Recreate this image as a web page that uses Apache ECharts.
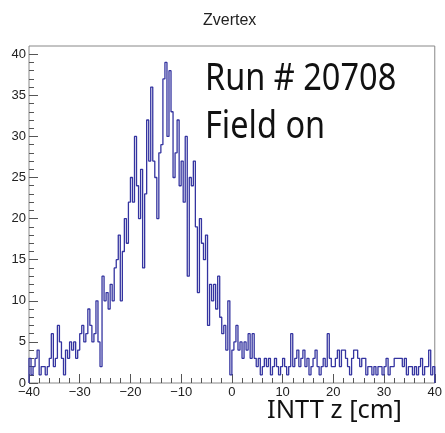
<!DOCTYPE html>
<html>
<head>
<meta charset="utf-8">
<script src="https://cdn.jsdelivr.net/npm/echarts@6/dist/echarts.min.js"></script>
<style>
  html, body { margin: 0; padding: 0; background: #fff; }
  #chart { width: 445px; height: 433px; }
</style>
</head>
<body>
<div id="chart"></div>
<script>
// Z-vertex histogram: 200 bins of 0.4 cm between -40 and 40 cm
const xRange = [-40, 40];
const binWidth = 0.4;
const counts = [
  3, 1, 2, 3, 4, 1, 2, 2, 1, 2,
  3, 6, 2, 3, 7, 5, 3, 1, 4, 3,
  5, 4, 5, 3, 4, 6, 7, 5, 6, 9,
  7, 5, 6, 10, 5, 2, 13, 10, 11, 9,
  12, 10, 14, 15, 18, 10, 16, 20, 17, 22,
  25, 22, 30, 24, 20, 26, 14, 23, 32, 27,
  36, 27, 25, 20, 28, 29, 37, 39, 30, 38,
  33, 25, 28, 32, 24, 27, 22, 30, 13, 25,
  24, 27, 19, 11, 20, 17, 15, 18, 7, 12,
  10, 12, 9, 13, 8, 6, 7, 4, 10, 1,
  4, 5, 7, 4, 5, 3, 5, 4, 6, 3,
  6, 3, 2, 3, 1, 2, 3, 2, 3, 1,
  2, 3, 2, 1, 2, 3, 2, 1, 2, 6,
  2, 3, 4, 2, 3, 4, 2, 3, 1, 2,
  3, 4, 2, 1, 2, 3, 2, 6, 3, 2,
  2, 3, 4, 2, 4, 4, 3, 2, 1, 3,
  4, 4, 3, 2, 3, 3, 1, 2, 2, 1,
  2, 1, 2, 2, 1, 2, 3, 1, 2, 2,
  3, 3, 3, 3, 2, 3, 1, 2, 2, 1,
  2, 1, 2, 3, 1, 2, 2, 4, 1, 2
];
const yMax = 41;
const yMajorTicks = [0, 5, 10, 15, 20, 25, 30, 35, 40];
const yMinorTicks = [];
for (let v = 1; v < 41; v++) if (v % 5 !== 0) yMinorTicks.push(v);

const titleText = 'Zvertex';
const runText = 'Run # 20708';
const fieldText = 'Field on';
const xTitle = 'INTT z [cm]';

// histogram outline: each bin starts at its left edge, steps at the right edge
const outline = [[xRange[0], 0]];
counts.forEach((c, i) => outline.push([xRange[0] + i * binWidth, c]));
outline.push([xRange[1], counts[counts.length - 1]]);
outline.push([xRange[1], 0]);

const axisColor = '#555';
const labelFont = { fontFamily: 'Liberation Sans', fontSize: 13, color: '#222' };
const minus = v => String(v).replace('-', '\u2212');
const noteStyle = { fontFamily: 'Noto Sans', fontSize: 32.5, fill: '#111' };

const chart = echarts.init(document.getElementById('chart'), null, { renderer: 'canvas' });
chart.setOption({
  animation: false,
  backgroundColor: '#fff',
  title: {
    text: titleText,
    left: 198,
    top: 8,
    textStyle: { fontFamily: 'Liberation Sans', fontSize: 16, fontWeight: 'normal', color: '#222' }
  },
  grid: {
    left: 29, right: 7, top: 46, bottom: 50,
    show: true, borderColor: '#888', borderWidth: 1, backgroundColor: '#fff'
  },
  xAxis: {
    type: 'value', min: xRange[0], max: xRange[1], interval: 10,
    axisLine: { show: false, onZero: false },
    axisTick: { show: true, inside: true, length: 9, lineStyle: { color: axisColor } },
    minorTick: { show: true, splitNumber: 5, length: 5, lineStyle: { color: axisColor } },
    splitLine: { show: false },
    axisLabel: Object.assign({ margin: 3, formatter: minus }, labelFont)
  },
  yAxis: [{
    type: 'value', min: 0, max: yMax,
    axisLine: { show: false, onZero: false },
    axisTick: { show: true, inside: true, length: 9, customValues: yMajorTicks, lineStyle: { color: axisColor } },
    splitLine: { show: false },
    axisLabel: Object.assign({ margin: 3, customValues: yMajorTicks }, labelFont)
  }, {
    type: 'value', min: 0, max: yMax, position: 'left',
    axisLine: { show: false, onZero: false },
    axisTick: { show: true, inside: true, length: 5, customValues: yMinorTicks, lineStyle: { color: axisColor } },
    splitLine: { show: false },
    axisLabel: { show: false }
  }],
  series: [{
    type: 'line',
    step: 'end',
    data: outline,
    symbol: 'none',
    lineStyle: { color: '#3434a0', width: 1.3 },
    z: 3
  }],
  graphic: [
    { type: 'text', x: 205, y: 60, scaleY: 1.18, style: Object.assign({ text: runText }, noteStyle) },
    { type: 'text', x: 205, y: 108, scaleY: 1.18, style: Object.assign({ text: fieldText }, noteStyle) },
    { type: 'text', x: 267, y: 398, style: { text: xTitle, fontFamily: 'Noto Sans', fontSize: 25.5, fill: '#111' } }
  ]
});
</script>
</body>
</html>
